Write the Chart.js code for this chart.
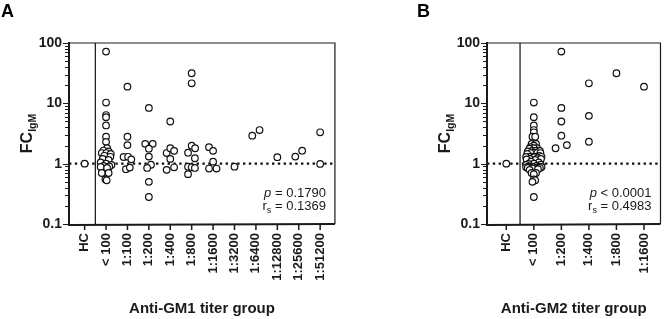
<!DOCTYPE html>
<html><head><meta charset="utf-8">
<script src="https://cdn.jsdelivr.net/npm/chart.js@4"></script>
<style>
html,body{margin:0;padding:0;background:#fff;}
#wrap{position:relative;width:669px;height:319px;overflow:hidden;background:#fff}
canvas{position:absolute;top:0}
.lab{position:absolute;font:bold 18px "Liberation Sans",Arial,sans-serif;color:#000;line-height:1}
</style></head><body>
<div id="wrap">
<canvas id="cA" width="345" height="319" style="left:0"></canvas>
<canvas id="cB" width="324" height="319" style="left:345px"></canvas>
<div class="lab" style="left:1px;top:2px">A</div>
<div class="lab" style="left:417px;top:2px">B</div>
</div>
<script>
// ---------- Panel A: Anti-GM1 ----------
const gm1Categories = ['HC','< 100','1:100','1:200','1:400','1:800','1:1600','1:3200','1:6400','1:12800','1:25600','1:51200'];
const gm1Values = [
  [1.0],
  [72, 10.3, 6.4, 5.9, 4.3, 2.8, 2.3, 1.8, 1.65, 1.6, 1.5, 1.5, 1.45, 1.35, 1.3, 1.2, 1.15, 1.05, 1.0, 0.95, 0.92, 0.9, 0.88, 0.85, 0.7, 0.7, 0.55, 0.53],
  [18.9, 2.8, 2.03, 1.29, 1.30, 1.18, 0.81, 0.86],
  [8.4, 2.13, 2.13, 1.77, 1.31, 0.96, 0.85, 0.50, 0.28],
  [5.0, 1.5, 1.8, 1.63, 1.2, 0.79, 0.87],
  [31.5, 21.5, 1.99, 1.8, 1.52, 1.23, 0.89, 0.87, 0.85, 0.67],
  [1.88, 1.63, 1.08, 0.83, 0.83],
  [0.89],
  [2.91, 3.61],
  [1.28],
  [1.31, 1.64],
  [3.31, 0.99]
];
const gm1Jitter = [
  [0],
  [0, 0, 0, 0, 0, 0, 0, 0.05, -0.12, 0.12, -0.2, 0.02, 0.22, -0.08, 0.2, -0.15, 0.12, -0.25, 0, 0.25, -0.12, 0.15, -0.25, 0.05, -0.2, 0.12, -0.03, 0.03],
  [0, 0, 0, -0.18, 0.03, 0.18, -0.07, 0.11],
  [0, -0.17, 0.18, 0, 0, 0.1, -0.08, 0, 0],
  [0, -0.17, 0, 0.18, 0, -0.17, 0.18],
  [0, 0, 0, 0.16, -0.17, 0.15, -0.17, 0, 0.15, -0.17],
  [-0.19, 0, 0, -0.19, 0.16],
  [0],
  [-0.17, 0.17],
  [0],
  [-0.16, 0.16],
  [0, 0]
];
const gm1Stats = ['0.1790', '0.1369'];

// ---------- Panel B: Anti-GM2 ----------
const gm2Categories = ['HC','< 100','1:200','1:400','1:800','1:1600'];
const gm2Values = [
  [1.0],
  [10.3, 5.9, 4.3, 3.61, 3.31, 2.8, 2.8, 2.13, 2.13, 1.99, 1.88, 1.8, 1.8, 1.77, 1.65, 1.64, 1.63, 1.63, 1.6, 1.52,
   1.5, 1.5, 1.5, 1.45, 1.35, 1.31, 1.31, 1.3, 1.30, 1.29, 1.28, 1.23, 1.2, 1.2, 1.18, 1.15, 1.08, 1.05, 1.0, 0.99,
   0.96, 0.95, 0.92, 0.9, 0.89, 0.89, 0.88, 0.87, 0.87, 0.86, 0.85, 0.85, 0.85, 0.83, 0.83, 0.81, 0.79, 0.7, 0.7, 0.67,
   0.55, 0.53, 0.50, 0.28],
  [72, 8.4, 5.0, 2.91, 1.8, 2.03],
  [21.5, 6.2, 2.31],
  [31.5],
  [18.9]
];
const gm2Jitter = [
  [0],
  [0, 0, 0, 0, 0, -0.05, 0.05, -0.08, 0.08, 0, -0.12, 0.12, 0, -0.16, 0.16, -0.05, 0.05, 0.22, -0.22, 0,
   0.12, -0.12, 0.24, -0.24, 0.2, -0.08, 0.08, -0.18, 0.28, -0.28, 0.02, 0.14, -0.14, 0.26, -0.26, 0.05, -0.1, 0.18, 0, -0.2,
   0.25, -0.28, 0.1, -0.1, 0.2, -0.2, 0.28, 0, -0.28, 0.12, -0.12, 0.22, -0.22, 0.05, -0.05, 0.15, -0.15, -0.08, 0.08, 0,
   0, 0.05, -0.05, 0],
  [0, 0, 0, 0, -0.21, 0.2],
  [0, 0, 0],
  [0],
  [0]
];
const gm2Stats = ['< 0.0001', '0.4983'];

const FONT = '"Liberation Sans", Arial, sans-serif';
const INK = '#1a1a1a';

function buildPoints(values, jitter){
  const pts = [];
  values.forEach((grp, i) => grp.forEach((v, k) => pts.push({x: i + jitter[i][k], y: v})));
  return pts;
}

function decoPlugin(cfg){
  return {
    id: 'deco',
    afterDraw(chart){
      const ctx = chart.ctx, a = chart.chartArea, xs = chart.scales.x, ys = chart.scales.y;
      ctx.save();
      ctx.strokeStyle = INK;
      // frame top/right
      ctx.lineWidth = 1.2;
      ctx.beginPath();
      ctx.moveTo(a.left, a.top); ctx.lineTo(a.right, a.top); ctx.lineTo(a.right, a.bottom);
      ctx.stroke();
      // left and bottom axis
      ctx.lineWidth = 2;
      ctx.beginPath();
      ctx.moveTo(a.left, a.top - 1); ctx.lineTo(a.left, a.bottom + 1); ctx.lineTo(a.right, a.bottom);
      ctx.stroke();
      // y ticks (major + minor)
      ctx.lineWidth = 1.2;
      ctx.beginPath();
      for (let d = 0.1; d < 100; d *= 10) {
        for (let m = 1; m <= 9; m++) {
          const v = d * m;
          const py = Math.round(ys.getPixelForValue(v)) + 0.5;
          const len = m === 1 ? 5 : 3;
          ctx.moveTo(a.left - 1 - len, py); ctx.lineTo(a.left, py);
        }
      }
      const pTop = Math.round(ys.getPixelForValue(100)) + 0.5;
      ctx.moveTo(a.left - 6, pTop); ctx.lineTo(a.left, pTop);
      ctx.stroke();
      // x ticks
      ctx.lineWidth = 1.5;
      ctx.beginPath();
      cfg.categories.forEach((c, i) => {
        const px = xs.getPixelForValue(i);
        ctx.moveTo(px, a.bottom); ctx.lineTo(px, a.bottom + 6);
      });
      ctx.stroke();

      ctx.fillStyle = INK;
      // y title FC with IgM subscript
      ctx.save();
      ctx.translate(a.left - 37, (a.top + a.bottom) / 2);
      ctx.rotate(-Math.PI / 2);
      ctx.font = 'bold 16px ' + FONT;
      const w1 = ctx.measureText('FC').width;
      ctx.font = 'bold 10.5px ' + FONT;
      const w2 = ctx.measureText('IgM').width;
      const start = -(w1 + w2) / 2;
      ctx.textBaseline = 'alphabetic';
      ctx.textAlign = 'left';
      ctx.font = 'bold 16px ' + FONT;
      ctx.fillText('FC', start, 0);
      ctx.font = 'bold 10.5px ' + FONT;
      ctx.fillText('IgM', start + w1, 3.5);
      ctx.restore();

      // x title
      ctx.font = 'bold 15px ' + FONT;
      ctx.textAlign = 'center';
      ctx.textBaseline = 'alphabetic';
      ctx.fillText(cfg.xTitle, (a.left + a.right) / 2, 313);

      // stats annotation
      const right = a.right - 9;
      ctx.textAlign = 'left';
      // line 1: p ...
      ctx.font = 'italic 13px ' + FONT;
      const wp = ctx.measureText('p').width;
      ctx.font = '13px ' + FONT;
      const rest1 = (cfg.stats[0].startsWith('<') ? ' ' : ' = ') + cfg.stats[0];
      const wr1 = ctx.measureText(rest1).width;
      let x0 = right - wp - wr1;
      ctx.font = 'italic 13px ' + FONT;
      ctx.fillText('p', x0, a.bottom - 27);
      ctx.font = '13px ' + FONT;
      ctx.fillText(rest1, x0 + wp, a.bottom - 27);
      // line 2: r_s = ...
      ctx.font = '13px ' + FONT;
      const wr = ctx.measureText('r').width;
      const rest2 = ' = ' + cfg.stats[1];
      const wr2 = ctx.measureText(rest2).width;
      ctx.font = '9px ' + FONT;
      const ws = ctx.measureText('s').width;
      x0 = right - wr - ws - wr2;
      ctx.font = '13px ' + FONT;
      ctx.fillText('r', x0, a.bottom - 14.5);
      ctx.font = '9px ' + FONT;
      ctx.fillText('s', x0 + wr, a.bottom - 11.5);
      ctx.font = '13px ' + FONT;
      ctx.fillText(rest2, x0 + wr + ws, a.bottom - 14.5);
      ctx.restore();
    }
  };
}

function makeChart(id, cfg){
  const pts = buildPoints(cfg.values, cfg.jitter);
  return new Chart(document.getElementById(id), {
    type: 'scatter',
    data: {
      datasets: [
        {
          data: pts, order: 0,
          pointRadius: 3.3, pointBorderWidth: 1.2,
          pointBackgroundColor: '#ffffff', pointBorderColor: '#111111',
          pointHoverRadius: 3.3
        },
        {
          data: [{x: cfg.xMin, y: 1}, {x: cfg.xMax, y: 1}], order: 1,
          showLine: true, pointRadius: 0, borderColor: '#111111', borderWidth: 2.2,
          borderDash: [2.4, 3.4]
        },
        {
          data: [{x: 0.5, y: 0.1}, {x: 0.5, y: 100}], order: 2,
          showLine: true, pointRadius: 0, borderColor: '#111111', borderWidth: 1.2
        }
      ]
    },
    options: {
      responsive: false, animation: false, events: [],
      layout: {padding: {top: 43, right: cfg.padRight, left: 0, bottom: 0}},
      plugins: {legend: {display: false}, tooltip: {enabled: false}},
      scales: {
        x: {
          type: 'linear', min: cfg.xMin, max: cfg.xMax,
          grid: {display: false, drawTicks: false},
          border: {display: false},
          afterBuildTicks: s => { s.ticks = cfg.categories.map((c, i) => ({value: i})); },
          afterFit: s => { s.height = 95; },
          ticks: {
            autoSkip: false, maxRotation: 90, minRotation: 90, padding: 9,
            color: INK, font: {family: FONT, size: 13, weight: 'bold'},
            callback: v => cfg.categories[Math.round(v)]
          }
        },
        y: {
          type: 'logarithmic', min: 0.1, max: 100,
          grid: {display: false, drawTicks: false},
          border: {display: false},
          afterBuildTicks: s => { s.ticks = [0.1, 1, 10, 100].map(v => ({value: v, major: true})); },
          afterFit: s => { s.width = cfg.yWidth; },
          ticks: {
            autoSkip: false, padding: 7,
            color: INK, font: {family: FONT, size: 14, weight: 'bold'},
            callback: v => (v === 0.1 ? '0.1' : String(Math.round(v)))
          }
        }
      }
    },
    plugins: [decoPlugin(cfg)]
  });
}

makeChart('cA', {
  categories: gm1Categories, values: gm1Values, jitter: gm1Jitter, stats: gm1Stats,
  xMin: -0.73, xMax: 11.69, yWidth: 69, padRight: 4, xTitle: 'Anti-GM1 titer group'
});
makeChart('cB', {
  categories: gm2Categories, values: gm2Values, jitter: gm2Jitter, stats: gm2Stats,
  xMin: -0.7, xMax: 5.6, yWidth: 142, padRight: 3, xTitle: 'Anti-GM2 titer group'
});
</script>
</body></html>
